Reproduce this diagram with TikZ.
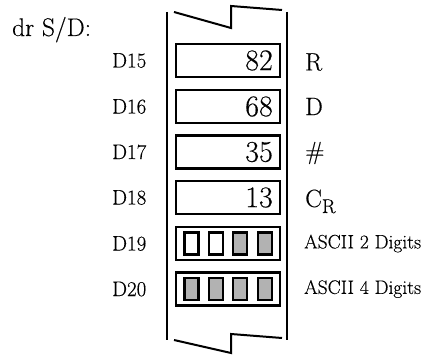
\documentclass[tikz,border=0pt]{standalone}
\usepackage{fontspec}
\setmainfont{Latin Modern Roman}[FakeBold=0.35]
\begin{document}
\begin{tikzpicture}[x=1pt,y=-1pt,
  reg/.style={draw, line width=2.2pt, minimum width=104pt, minimum height=33pt, inner sep=0pt},
  cell/.style={draw, line width=2.2pt, minimum width=14pt, minimum height=22pt, inner sep=0pt},
  full/.style={cell, fill=black!30},
  empty/.style={cell, fill=white},
  addr/.style={anchor=west, inner sep=0pt, font=\fontsize{21}{25}\selectfont},
  val/.style={anchor=east, inner sep=0pt, font=\fontsize{30}{33}\selectfont},
  sym/.style={anchor=west, inner sep=0pt, font=\fontsize{25}{28}\selectfont},
  note/.style={anchor=west, inner sep=0pt, font=\fontsize{19.5}{22}\selectfont},
  wall/.style={line width=2.2pt},
  tear/.style={line width=2pt, line join=miter}]
\useasboundingbox (0,0) rectangle (445,355);

% title
\node[anchor=base west, inner sep=0pt, font=\fontsize{25.5}{29}\selectfont] (title) at (12,36) {dr S/D:};

% walls of the memory column
\coordinate (wlt) at (167,12); \coordinate (wlb) at (167,340);
\coordinate (wrt) at (287,12); \coordinate (wrb) at (287,340);
\draw[wall] (wlt) -- (wlb);
\draw[wall] (wrt) -- (wrb);

% torn edges
\coordinate (t1) at (174,12); \coordinate (t2) at (231,28);
\coordinate (t3) at (231,6);  \coordinate (t4) at (282,10);
\draw[tear] (t1) -- (t2) -- (t3) -- (t4);
\coordinate (b1) at (174,340); \coordinate (b2) at (231,353);
\coordinate (b3) at (231,334); \coordinate (b4) at (282,338);
\draw[tear] (b1) -- (b2) -- (b3) -- (b4);

% registers
\node[reg] (r15) at (228,60.5) {};
\node[reg] (r16) at (228,106.5) {};
\node[reg] (r17) at (228,152) {};
\node[reg] (r18) at (228,197.5) {};
\node[reg] (r19) at (228,243.5) {};
\node[reg] (r20) at (228,289) {};

% addresses
\node[addr] (a15) at (112,60.5) {D15};
\node[addr] (a16) at (112,106.5) {D16};
\node[addr] (a17) at (112,152) {D17};
\node[addr] (a18) at (112,197.5) {D18};
\node[addr] (a19) at (112,243.5) {D19};
\node[addr] (a20) at (112,289) {D20};

% values
\node[val] (v15) at (273,60.5) {82};
\node[val] (v16) at (273,106.5) {68};
\node[val] (v17) at (273,152) {35};
\node[val] (v18) at (273,197.5) {13};

% meanings
\node[sym] (s15) at (305,62) {R};
\node[sym] (s16) at (305,106.5) {D};
\node[sym] (s17) at (305,153) {\#};
\node[sym, anchor=base west] (s18) at (305,207) {C\raisebox{-6pt}{\fontsize{20}{20}\selectfont R}};
\node[note] (s19) at (304,243.5) {ASCII 2 Digits};
\node[note] (s20) at (304,289) {ASCII 4 Digits};

% digit cells
\node[empty] (c191) at (191.5,243.5) {};
\node[empty] (c192) at (215.75,243.5) {};
\node[full]  (c193) at (240.25,243.5) {};
\node[full]  (c194) at (264.75,243.5) {};
\node[full]  (c201) at (191.5,289) {};
\node[full]  (c202) at (215.75,289) {};
\node[full]  (c203) at (240.25,289) {};
\node[full]  (c204) at (264.75,289) {};
\end{tikzpicture}
\end{document}
